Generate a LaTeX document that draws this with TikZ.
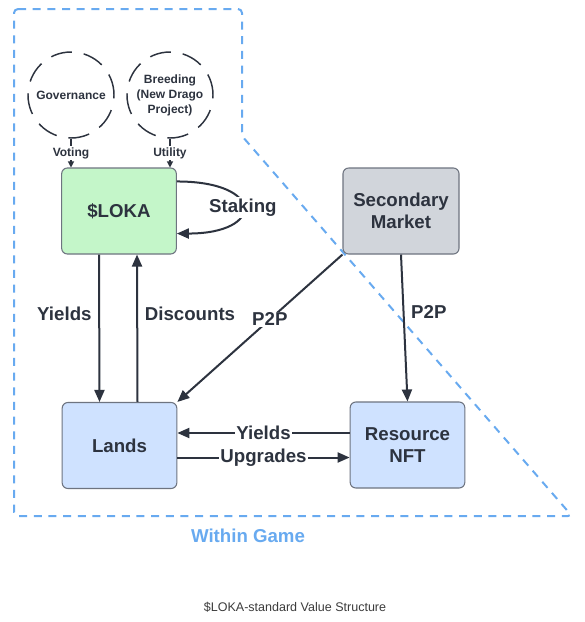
\documentclass[tikz,border=0pt]{standalone}
\usepackage{fontspec}
\setmainfont{Liberation Sans}
\usetikzlibrary{arrows.meta,positioning,calc}
\definecolor{ink}{RGB}{45,51,63}
\definecolor{boxedge}{RGB}{110,116,128}
\definecolor{lokagreen}{RGB}{196,246,201}
\definecolor{landblue}{RGB}{207,226,255}
\definecolor{marketgray}{RGB}{209,213,219}
\definecolor{zoneblue}{RGB}{104,170,240}
\definecolor{captiongray}{RGB}{60,60,60}
\newcommand{\bigbold}{\fontsize{14}{16.5}\selectfont\bfseries}
\newcommand{\smallbold}{\fontsize{9}{11.25}\selectfont\bfseries}

\begin{document}
\begin{tikzpicture}[x=0.75pt,y=-0.75pt,->,>={Triangle[length=9pt,width=7.5pt]},
   box/.style={draw=boxedge, line width=0.8pt, rounded corners=1.5mm, minimum width=86pt,
     minimum height=64.5pt, align=center, font=\bigbold, text=ink},
   ring/.style={draw=ink, circle, line width=1.1pt, dash pattern=on 16pt off 9pt,
     minimum size=64.5pt, inner sep=0pt, align=center, font=\smallbold, text=ink},
   flow/.style={draw=ink, line width=1.5pt},
   tag/.style={fill=white, inner sep=1pt, font=\bigbold, text=ink},
   hint/.style={draw=ink, line width=0.8pt, >={Triangle[length=4.5pt,width=4.5pt]}},
   zone/.style={draw=zoneblue, line width=1.5pt, dash pattern=on 6pt off 5pt}]
  \fill[white] (0,0) rectangle (585,622);
  \useasboundingbox (0,0) rectangle (585,622);
  % within game area
  \draw[-, zone, rounded corners=3pt] (14,9) -- (242,9) -- (242,136) -- (572,516) -- (14,516) -- cycle;
  \node[font=\bigbold, text=zoneblue] (zonename) at (248,536) {Within Game};
  % nodes
  \node[ring] (gov) at (71,95) {Governance};
  \node[ring] (breed) at (170,95) {Breeding\\(New Drago\\Project)};
  \node[box, fill=lokagreen] (loka) at (119,211) {\$LOKA};
  \node[box, fill=marketgray, minimum width=87pt] (market) at (401,211) {Secondary\\Market};
  \node[box, fill=landblue] (lands) at (119.5,445.5) {Lands};
  \node[box, fill=landblue] (resource) at (407.5,445) {Resource\\NFT};
  % edges
  \draw[hint] (gov.south) -- node[fill=white, inner sep=1pt, font=\smallbold, text=ink] {Voting} (gov.south |- loka.north);
  \draw[hint] (breed.south) -- node[fill=white, inner sep=1pt, font=\smallbold, text=ink] {Utility} (breed.south |- loka.north);
  \draw[flow] ($(loka.north east)+(0,14)$) .. controls +(88,0) and +(88,0) .. node[tag] {Staking} ($(loka.south east)+(0,-21)$);
  \draw[flow] ([xshift=-15pt]loka.south) -- node[tag, pos=0.4, left=4pt] {Yields} ([xshift=-15pt]lands.north);
  \draw[flow] ([xshift=13.5pt]lands.north) -- node[tag, pos=0.6, right=4pt] {Discounts} ([xshift=13.5pt]loka.south);
  \draw[flow] (market.south west) -- node[tag, pos=0.44] {P2P} (lands.north east);
  \draw[flow] (market.south) -- node[tag, pos=0.39, right=4pt] {P2P} (resource.north);
  \draw[flow] ([yshift=9pt]resource.west) -- node[tag] {Yields} ([yshift=9pt]resource.west -| lands.east);
  \draw[flow] ([yshift=-9pt]lands.east) -- node[tag] {Upgrades} ([yshift=-9pt]lands.east -| resource.west);
  % caption
  \node[font=\fontsize{9.4}{11}\selectfont, text=captiongray] (caption) at (295,607) {\$LOKA-standard Value Structure};
\end{tikzpicture}
\end{document}
